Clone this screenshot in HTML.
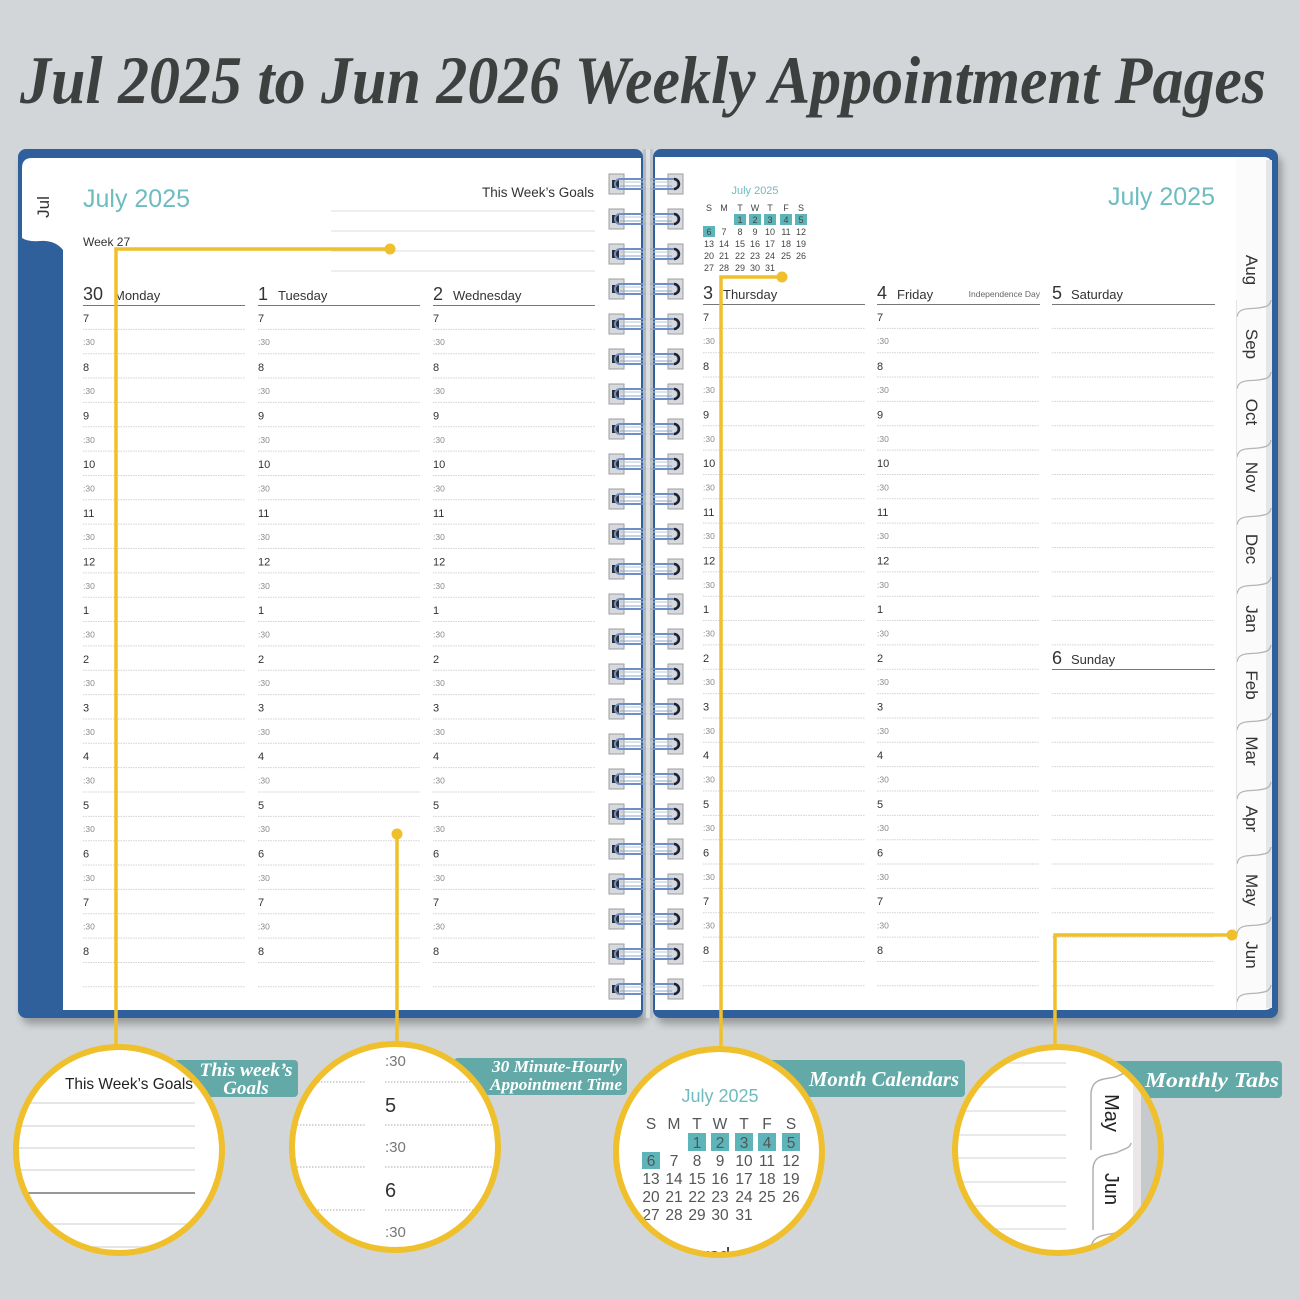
<!DOCTYPE html>
<html><head><meta charset="utf-8">
<style>
html,body{margin:0;padding:0;background:#d2d6d9;}
svg{display:block;}
text{font-family:"Liberation Sans",Arial,sans-serif;}
.t{font-family:"Liberation Serif",serif;font-weight:bold;font-style:italic;}
.h{font-size:11px;fill:#333;}
.m{font-size:8.5px;fill:#8a8a8a;}
.dn{font-size:18px;fill:#333;}
.dw{font-size:13px;fill:#333;}
.mc{font-size:9px;fill:#444;text-anchor:middle;}
.bc{font-size:15.5px;fill:#555;text-anchor:middle;}
.tab{font-size:17px;fill:#333;text-anchor:middle;}
</style></head><body>
<svg width="1300" height="1300" viewBox="0 0 1300 1300" xmlns="http://www.w3.org/2000/svg">
<defs>
<path id="rl" d="M0 24.35h162M0 48.7h162M0 73.05h162M0 97.4h162M0 121.75h162M0 146.1h162M0 170.45h162M0 194.8h162M0 219.15h162M0 243.5h162M0 267.85h162M0 292.2h162M0 316.55h162M0 340.9h162M0 365.25h162M0 389.6h162M0 413.95h162M0 438.3h162M0 462.65h162M0 487h162M0 511.35h162M0 535.7h162M0 560.05h162M0 584.4h162M0 608.75h162M0 633.1h162M0 657.45h162M0 681.8h162" fill="none" stroke="#d2d2d2" stroke-width="1" stroke-dasharray="1.5 1"/>
<g id="ring">
<rect x="609" y="-10" width="15" height="20" fill="#d8d9dc" stroke="#9a9da1"/>
<rect x="668" y="-10" width="15" height="20" fill="#d8d9dc" stroke="#9a9da1"/>
<rect x="612" y="-4" width="7" height="8" fill="#2a2e35"/>
<rect x="615" y="-5" width="63" height="10" rx="5" fill="none" stroke="#6f8fc4" stroke-width="2"/>
<line x1="620" y1="-2" x2="672" y2="-2" stroke="#b5c4dc" stroke-width="1"/>
<line x1="620" y1="2" x2="672" y2="2" stroke="#8ea6cc" stroke-width="1"/>
<path d="M674 -5 a5 5 0 1 1 0 10" fill="none" stroke="#1d2230" stroke-width="2.5"/>
</g>
<filter id="sh" x="-5%" y="-5%" width="110%" height="115%"><feGaussianBlur stdDeviation="4"/></filter>
<clipPath id="c1"><circle cx="119" cy="1150" r="103"/></clipPath>
<clipPath id="c2"><circle cx="395" cy="1147" r="103"/></clipPath>
<clipPath id="c3"><circle cx="719" cy="1152" r="103"/></clipPath>
<clipPath id="c4"><circle cx="1058" cy="1150" r="103"/></clipPath>
</defs>
<rect width="1300" height="1300" fill="#d2d6d9"/>

<!-- Title -->
<text class="t" x="20" y="103" font-size="68" fill="#3e403f" textLength="1246" lengthAdjust="spacingAndGlyphs">Jul 2025 to Jun 2026 Weekly Appointment Pages</text>

<!-- shadows -->
<rect x="22" y="156" width="625" height="868" rx="8" fill="#000" opacity="0.28" filter="url(#sh)"/>
<rect x="657" y="156" width="625" height="868" rx="8" fill="#000" opacity="0.28" filter="url(#sh)"/>

<!-- left cover -->
<rect x="18" y="149" width="625" height="869" rx="8" fill="#2f609b"/>
<rect x="63" y="158" width="578" height="852" fill="#ffffff"/>
<path d="M22 168 Q22 158 32 158 L63 158 L63 250 Q55 240 40 241 Q28 242 22 238 Z" fill="#ffffff"/>
<text class="tab" transform="translate(49 207) rotate(-90)" font-size="18">Jul</text>

<!-- right cover -->
<rect x="653" y="149" width="625" height="869" rx="8" fill="#2f609b"/>
<rect x="655" y="157" width="582" height="853" fill="#ffffff"/>
<path d="M1236 157 L1264 157 Q1272 157 1272 166 L1272 1003 Q1272 1010 1265 1010 L1236 1010 Z" fill="#fbfbfb"/>
<rect x="1266" y="160" width="6" height="848" fill="#e6e6e8"/>

<!-- spiral rings -->
<use href="#ring" y="184"/><use href="#ring" y="219"/><use href="#ring" y="254"/><use href="#ring" y="289"/>
<use href="#ring" y="324"/><use href="#ring" y="359"/><use href="#ring" y="394"/><use href="#ring" y="429"/>
<use href="#ring" y="464"/><use href="#ring" y="499"/><use href="#ring" y="534"/><use href="#ring" y="569"/>
<use href="#ring" y="604"/><use href="#ring" y="639"/><use href="#ring" y="674"/><use href="#ring" y="709"/>
<use href="#ring" y="744"/><use href="#ring" y="779"/><use href="#ring" y="814"/><use href="#ring" y="849"/>
<use href="#ring" y="884"/><use href="#ring" y="919"/><use href="#ring" y="954"/><use href="#ring" y="989"/>

<!-- spine (over rings, semi-transparent) -->
<rect x="643" y="149" width="10" height="869" fill="#b8bcc0" opacity="0.75"/>
<rect x="646" y="149" width="4" height="869" fill="#e6e8ea" opacity="0.8"/>

<!-- LEFT PAGE -->
<text x="83" y="207" font-size="25" fill="#6dbcc0">July 2025</text>
<text x="594" y="197" font-size="13.5" fill="#333" text-anchor="end">This Week’s Goals</text>
<g stroke="#dcdcdc" stroke-width="1">
<line x1="331" y1="211" x2="595" y2="211"/><line x1="331" y1="231" x2="595" y2="231"/>
<line x1="331" y1="251" x2="595" y2="251"/><line x1="331" y1="271" x2="595" y2="271"/>
</g>
<text x="83" y="246" font-size="12" fill="#333">Week 27</text>

<text class="dn" x="83" y="300">30</text><text class="dw" x="114" y="300">Monday</text>
<text class="dn" x="258" y="300">1</text><text class="dw" x="278" y="300">Tuesday</text>
<text class="dn" x="433" y="300">2</text><text class="dw" x="453" y="300">Wednesday</text>
<g stroke="#777" stroke-width="1">
<line x1="83" y1="305.5" x2="245" y2="305.5"/><line x1="258" y1="305.5" x2="420" y2="305.5"/><line x1="433" y1="305.5" x2="595" y2="305.5"/>
</g>
<use href="#rl" transform="translate(83 305)"/>
<use href="#rl" transform="translate(258 305)"/>
<use href="#rl" transform="translate(433 305)"/>

<g transform="translate(83 0)"><text class="h" y="322">7</text><text class="m" y="345">:30</text><text class="h" y="371">8</text><text class="m" y="394">:30</text><text class="h" y="419.5">9</text><text class="m" y="443">:30</text><text class="h" y="468">10</text><text class="m" y="491.5">:30</text><text class="h" y="517">11</text><text class="m" y="540">:30</text><text class="h" y="565.5">12</text><text class="m" y="589">:30</text><text class="h" y="614">1</text><text class="m" y="637.5">:30</text><text class="h" y="663">2</text><text class="m" y="686">:30</text><text class="h" y="711.5">3</text><text class="m" y="735">:30</text><text class="h" y="760">4</text><text class="m" y="783.5">:30</text><text class="h" y="809">5</text><text class="m" y="832">:30</text><text class="h" y="857.5">6</text><text class="m" y="881">:30</text><text class="h" y="906">7</text><text class="m" y="929.5">:30</text><text class="h" y="955">8</text></g>
<g transform="translate(258 0)"><text class="h" y="322">7</text><text class="m" y="345">:30</text><text class="h" y="371">8</text><text class="m" y="394">:30</text><text class="h" y="419.5">9</text><text class="m" y="443">:30</text><text class="h" y="468">10</text><text class="m" y="491.5">:30</text><text class="h" y="517">11</text><text class="m" y="540">:30</text><text class="h" y="565.5">12</text><text class="m" y="589">:30</text><text class="h" y="614">1</text><text class="m" y="637.5">:30</text><text class="h" y="663">2</text><text class="m" y="686">:30</text><text class="h" y="711.5">3</text><text class="m" y="735">:30</text><text class="h" y="760">4</text><text class="m" y="783.5">:30</text><text class="h" y="809">5</text><text class="m" y="832">:30</text><text class="h" y="857.5">6</text><text class="m" y="881">:30</text><text class="h" y="906">7</text><text class="m" y="929.5">:30</text><text class="h" y="955">8</text></g>
<g transform="translate(433 0)"><text class="h" y="322">7</text><text class="m" y="345">:30</text><text class="h" y="371">8</text><text class="m" y="394">:30</text><text class="h" y="419.5">9</text><text class="m" y="443">:30</text><text class="h" y="468">10</text><text class="m" y="491.5">:30</text><text class="h" y="517">11</text><text class="m" y="540">:30</text><text class="h" y="565.5">12</text><text class="m" y="589">:30</text><text class="h" y="614">1</text><text class="m" y="637.5">:30</text><text class="h" y="663">2</text><text class="m" y="686">:30</text><text class="h" y="711.5">3</text><text class="m" y="735">:30</text><text class="h" y="760">4</text><text class="m" y="783.5">:30</text><text class="h" y="809">5</text><text class="m" y="832">:30</text><text class="h" y="857.5">6</text><text class="m" y="881">:30</text><text class="h" y="906">7</text><text class="m" y="929.5">:30</text><text class="h" y="955">8</text></g>

<!-- RIGHT PAGE -->
<text x="755" y="194" font-size="11" fill="#6dbcc0" text-anchor="middle">July 2025</text>
<text class="mc" x="709" y="211">S</text><text class="mc" x="724" y="211">M</text><text class="mc" x="740" y="211">T</text><text class="mc" x="755" y="211">W</text><text class="mc" x="770" y="211">T</text><text class="mc" x="786" y="211">F</text><text class="mc" x="801" y="211">S</text>
<g fill="#5db5ba">
<rect x="734" y="214" width="12" height="11"/><rect x="749" y="214" width="12" height="11"/><rect x="764" y="214" width="12" height="11"/><rect x="780" y="214" width="12" height="11"/><rect x="795" y="214" width="12" height="11"/>
<rect x="703" y="226" width="12" height="11"/>
</g>
<text class="mc" x="740" y="223">1</text><text class="mc" x="755" y="223">2</text><text class="mc" x="770" y="223">3</text><text class="mc" x="786" y="223">4</text><text class="mc" x="801" y="223">5</text>
<text class="mc" x="709" y="235">6</text><text class="mc" x="724" y="235">7</text><text class="mc" x="740" y="235">8</text><text class="mc" x="755" y="235">9</text><text class="mc" x="770" y="235">10</text><text class="mc" x="786" y="235">11</text><text class="mc" x="801" y="235">12</text>
<text class="mc" x="709" y="247">13</text><text class="mc" x="724" y="247">14</text><text class="mc" x="740" y="247">15</text><text class="mc" x="755" y="247">16</text><text class="mc" x="770" y="247">17</text><text class="mc" x="786" y="247">18</text><text class="mc" x="801" y="247">19</text>
<text class="mc" x="709" y="259">20</text><text class="mc" x="724" y="259">21</text><text class="mc" x="740" y="259">22</text><text class="mc" x="755" y="259">23</text><text class="mc" x="770" y="259">24</text><text class="mc" x="786" y="259">25</text><text class="mc" x="801" y="259">26</text>
<text class="mc" x="709" y="271">27</text><text class="mc" x="724" y="271">28</text><text class="mc" x="740" y="271">29</text><text class="mc" x="755" y="271">30</text><text class="mc" x="770" y="271">31</text>

<text x="1215" y="205" font-size="25" fill="#6dbcc0" text-anchor="end">July 2025</text>

<text class="dn" x="703" y="299">3</text><text class="dw" x="723" y="299">Thursday</text>
<text class="dn" x="877" y="299">4</text><text class="dw" x="897" y="299">Friday</text>
<text x="1040" y="297" font-size="8.5" fill="#666" text-anchor="end">Independence Day</text>
<text class="dn" x="1052" y="299">5</text><text class="dw" x="1071" y="299">Saturday</text>
<g stroke="#777" stroke-width="1">
<line x1="703" y1="304.5" x2="865" y2="304.5"/><line x1="877" y1="304.5" x2="1040" y2="304.5"/><line x1="1052" y1="304.5" x2="1215" y2="304.5"/>
</g>
<use href="#rl" transform="translate(703 304)"/>
<use href="#rl" transform="translate(877 304)"/>
<use href="#rl" transform="translate(1052 304)"/>
<rect x="1050" y="665" width="167" height="8" fill="#fff"/>
<line x1="1052" y1="669.5" x2="1215" y2="669.5" stroke="#777" stroke-width="1"/>
<text class="dn" x="1052" y="664">6</text><text class="dw" x="1071" y="664">Sunday</text>

<g transform="translate(703 -1)"><text class="h" y="322">7</text><text class="m" y="345">:30</text><text class="h" y="371">8</text><text class="m" y="394">:30</text><text class="h" y="419.5">9</text><text class="m" y="443">:30</text><text class="h" y="468">10</text><text class="m" y="491.5">:30</text><text class="h" y="517">11</text><text class="m" y="540">:30</text><text class="h" y="565.5">12</text><text class="m" y="589">:30</text><text class="h" y="614">1</text><text class="m" y="637.5">:30</text><text class="h" y="663">2</text><text class="m" y="686">:30</text><text class="h" y="711.5">3</text><text class="m" y="735">:30</text><text class="h" y="760">4</text><text class="m" y="783.5">:30</text><text class="h" y="809">5</text><text class="m" y="832">:30</text><text class="h" y="857.5">6</text><text class="m" y="881">:30</text><text class="h" y="906">7</text><text class="m" y="929.5">:30</text><text class="h" y="955">8</text></g>
<g transform="translate(877 -1)"><text class="h" y="322">7</text><text class="m" y="345">:30</text><text class="h" y="371">8</text><text class="m" y="394">:30</text><text class="h" y="419.5">9</text><text class="m" y="443">:30</text><text class="h" y="468">10</text><text class="m" y="491.5">:30</text><text class="h" y="517">11</text><text class="m" y="540">:30</text><text class="h" y="565.5">12</text><text class="m" y="589">:30</text><text class="h" y="614">1</text><text class="m" y="637.5">:30</text><text class="h" y="663">2</text><text class="m" y="686">:30</text><text class="h" y="711.5">3</text><text class="m" y="735">:30</text><text class="h" y="760">4</text><text class="m" y="783.5">:30</text><text class="h" y="809">5</text><text class="m" y="832">:30</text><text class="h" y="857.5">6</text><text class="m" y="881">:30</text><text class="h" y="906">7</text><text class="m" y="929.5">:30</text><text class="h" y="955">8</text></g>

<!-- right tabs -->
<g fill="none" stroke="#b5b5b8" stroke-width="1.3">
<path d="M1237 317 C1238 307 1250 309 1258 308 S1270 306 1271 300"/>
<path d="M1237 389 C1238 379 1250 381 1258 380 S1270 378 1271 372"/>
<path d="M1237 457 C1238 447 1250 449 1258 448 S1270 446 1271 440"/>
<path d="M1237 525 C1238 515 1250 517 1258 516 S1270 514 1271 508"/>
<path d="M1237 594 C1238 584 1250 586 1258 585 S1270 583 1271 577"/>
<path d="M1237 662 C1238 652 1250 654 1258 653 S1270 651 1271 645"/>
<path d="M1237 730 C1238 720 1250 722 1258 721 S1270 719 1271 713"/>
<path d="M1237 799 C1238 789 1250 791 1258 790 S1270 788 1271 782"/>
<path d="M1237 864 C1238 854 1250 856 1258 855 S1270 853 1271 847"/>
<path d="M1237 934 C1238 924 1250 926 1258 925 S1270 923 1271 917"/>
<path d="M1237 1002 C1238 992 1250 994 1258 993 S1270 991 1271 985"/>
</g>
<line x1="1236.5" y1="300" x2="1236.5" y2="1010" stroke="#e4e4e6" stroke-width="1"/>
<text class="tab" transform="translate(1246 270) rotate(90)">Aug</text>
<text class="tab" transform="translate(1246 344) rotate(90)">Sep</text>
<text class="tab" transform="translate(1246 412) rotate(90)">Oct</text>
<text class="tab" transform="translate(1246 477) rotate(90)">Nov</text>
<text class="tab" transform="translate(1246 549) rotate(90)">Dec</text>
<text class="tab" transform="translate(1246 619) rotate(90)">Jan</text>
<text class="tab" transform="translate(1246 685) rotate(90)">Feb</text>
<text class="tab" transform="translate(1246 751) rotate(90)">Mar</text>
<text class="tab" transform="translate(1246 819) rotate(90)">Apr</text>
<text class="tab" transform="translate(1246 890) rotate(90)">May</text>
<text class="tab" transform="translate(1246 955) rotate(90)">Jun</text>

<!-- yellow callout lines -->
<g stroke="#efbf2c" stroke-width="3.5" fill="none">
<path d="M116 1046 V249 H390"/>
<path d="M397 1043 V834"/>
<path d="M721 1048 V277 H782"/>
<path d="M1055 1046 V935 H1232"/>
</g>
<g fill="#efbf2c">
<circle cx="390" cy="249" r="5.5"/><circle cx="397" cy="834" r="5.5"/><circle cx="782" cy="277" r="5.5"/><circle cx="1232" cy="935" r="5.5"/>
</g>

<!-- teal labels -->
<g fill="#62a9a8">
<rect x="174" y="1060" width="124" height="37" rx="4"/>
<rect x="454" y="1058" width="173" height="37" rx="4"/>
<rect x="766" y="1060" width="199" height="37" rx="4"/>
<rect x="1113" y="1061" width="169" height="37" rx="4"/>
</g>
<g fill="#ffffff">
<text class="t" x="246" y="1076" font-size="19" text-anchor="middle" textLength="93" lengthAdjust="spacingAndGlyphs">This week’s</text>
<text class="t" x="246" y="1094" font-size="19" text-anchor="middle">Goals</text>
<text class="t" x="492" y="1072" font-size="17" textLength="130" lengthAdjust="spacingAndGlyphs">30 Minute-Hourly</text>
<text class="t" x="490" y="1090" font-size="17" textLength="132" lengthAdjust="spacingAndGlyphs">Appointment Time</text>
<text class="t" x="809" y="1086" font-size="21" textLength="150" lengthAdjust="spacingAndGlyphs">Month Calendars</text>
<text class="t" x="1145" y="1087" font-size="21" textLength="134" lengthAdjust="spacingAndGlyphs">Monthly Tabs</text>
</g>

<!-- circle 1 -->
<circle cx="119" cy="1150" r="103" fill="#fff"/>
<g clip-path="url(#c1)">
<text x="65" y="1089" font-size="16" fill="#222" textLength="128" lengthAdjust="spacingAndGlyphs">This Week’s Goals</text>
<g stroke="#d6d6d6" stroke-width="1.3">
<line x1="10" y1="1103" x2="195" y2="1103"/><line x1="10" y1="1126" x2="195" y2="1126"/><line x1="10" y1="1148" x2="195" y2="1148"/><line x1="10" y1="1170" x2="195" y2="1170"/><line x1="10" y1="1224" x2="195" y2="1224"/><line x1="10" y1="1247" x2="195" y2="1247"/>
</g>
<line x1="10" y1="1193" x2="195" y2="1193" stroke="#777" stroke-width="1.6"/>
</g>
<circle cx="119" cy="1150" r="103" fill="none" stroke="#efbf2c" stroke-width="6"/>

<!-- circle 2 -->
<circle cx="395" cy="1147" r="103" fill="#fff"/>
<g clip-path="url(#c2)">
<g stroke="#aaa" stroke-width="1" stroke-dasharray="1.5 1.5">
<line x1="285" y1="1082" x2="365" y2="1082"/><line x1="385" y1="1082" x2="505" y2="1082"/>
<line x1="285" y1="1125" x2="365" y2="1125"/><line x1="385" y1="1125" x2="505" y2="1125"/>
<line x1="285" y1="1167" x2="365" y2="1167"/><line x1="385" y1="1167" x2="505" y2="1167"/>
<line x1="285" y1="1210" x2="365" y2="1210"/><line x1="385" y1="1210" x2="505" y2="1210"/>
</g>
<text x="385" y="1066" font-size="15" fill="#777">:30</text>
<text x="385" y="1112" font-size="20" fill="#333">5</text>
<text x="385" y="1152" font-size="15" fill="#777">:30</text>
<text x="385" y="1197" font-size="20" fill="#333">6</text>
<text x="385" y="1237" font-size="15" fill="#777">:30</text>
</g>
<circle cx="395" cy="1147" r="103" fill="none" stroke="#efbf2c" stroke-width="6"/>

<!-- circle 3 -->
<circle cx="719" cy="1152" r="103" fill="#fff"/>
<g clip-path="url(#c3)">
<text x="720" y="1102" font-size="18" fill="#6dbcc0" text-anchor="middle">July 2025</text>
<text class="bc" x="651" y="1129" font-size="14">S</text><text class="bc" x="674" y="1129" font-size="14">M</text><text class="bc" x="697" y="1129" font-size="14">T</text><text class="bc" x="720" y="1129" font-size="14">W</text><text class="bc" x="744" y="1129" font-size="14">T</text><text class="bc" x="767" y="1129" font-size="14">F</text><text class="bc" x="791" y="1129" font-size="14">S</text>
<g fill="#5db5ba">
<rect x="688" y="1133" width="18" height="18"/><rect x="711" y="1133" width="18" height="18"/><rect x="735" y="1133" width="18" height="18"/><rect x="758" y="1133" width="18" height="18"/><rect x="782" y="1133" width="18" height="18"/>
<rect x="642" y="1152" width="18" height="17"/>
</g>
<text class="bc" x="697" y="1148">1</text><text class="bc" x="720" y="1148">2</text><text class="bc" x="744" y="1148">3</text><text class="bc" x="767" y="1148">4</text><text class="bc" x="791" y="1148">5</text>
<text class="bc" x="651" y="1166">6</text><text class="bc" x="674" y="1166">7</text><text class="bc" x="697" y="1166">8</text><text class="bc" x="720" y="1166">9</text><text class="bc" x="744" y="1166">10</text><text class="bc" x="767" y="1166">11</text><text class="bc" x="791" y="1166">12</text>
<text class="bc" x="651" y="1184">13</text><text class="bc" x="674" y="1184">14</text><text class="bc" x="697" y="1184">15</text><text class="bc" x="720" y="1184">16</text><text class="bc" x="744" y="1184">17</text><text class="bc" x="767" y="1184">18</text><text class="bc" x="791" y="1184">19</text>
<text class="bc" x="651" y="1202">20</text><text class="bc" x="674" y="1202">21</text><text class="bc" x="697" y="1202">22</text><text class="bc" x="720" y="1202">23</text><text class="bc" x="744" y="1202">24</text><text class="bc" x="767" y="1202">25</text><text class="bc" x="791" y="1202">26</text>
<text class="bc" x="651" y="1220">27</text><text class="bc" x="674" y="1220">28</text><text class="bc" x="697" y="1220">29</text><text class="bc" x="720" y="1220">30</text><text class="bc" x="744" y="1220">31</text>
<text x="668" y="1262" font-size="20" fill="#333">Thursday</text>
</g>
<circle cx="719" cy="1152" r="103" fill="none" stroke="#efbf2c" stroke-width="6"/>

<!-- circle 4 -->
<circle cx="1058" cy="1150" r="103" fill="#fff"/>
<g clip-path="url(#c4)">
<g stroke="#dcdcdc" stroke-width="1.3">
<line x1="950" y1="1063" x2="1066" y2="1063"/><line x1="950" y1="1087" x2="1066" y2="1087"/><line x1="950" y1="1111" x2="1066" y2="1111"/><line x1="950" y1="1135" x2="1066" y2="1135"/><line x1="950" y1="1158" x2="1066" y2="1158"/><line x1="950" y1="1182" x2="1066" y2="1182"/><line x1="950" y1="1206" x2="1066" y2="1206"/><line x1="950" y1="1229" x2="1066" y2="1229"/>
</g>
<rect x="1133" y="1040" width="8" height="230" fill="#ebe6e8"/>
<rect x="1141" y="1040" width="30" height="230" fill="#c6cacd"/>
<g fill="none" stroke="#b0b0b3" stroke-width="1.5">
<path d="M1091 1095 C1091 1075 1110 1080 1118 1076 S1130 1072 1131 1066"/>
<path d="M1093 1170 C1093 1152 1110 1156 1118 1152 S1130 1148 1131 1143"/>
<path d="M1091 1250 C1091 1232 1110 1236 1118 1232 S1130 1228 1131 1223"/>
<line x1="1091" y1="1095" x2="1091" y2="1150"/>
<line x1="1093" y1="1170" x2="1093" y2="1230"/>
</g>
<text x="0" y="0" font-size="20" fill="#222" text-anchor="middle" transform="translate(1105 1113) rotate(90)">May</text>
<text x="0" y="0" font-size="20" fill="#222" text-anchor="middle" transform="translate(1105 1189) rotate(90)">Jun</text>
</g>
<circle cx="1058" cy="1150" r="103" fill="none" stroke="#efbf2c" stroke-width="6"/>
</svg>
</body></html>
